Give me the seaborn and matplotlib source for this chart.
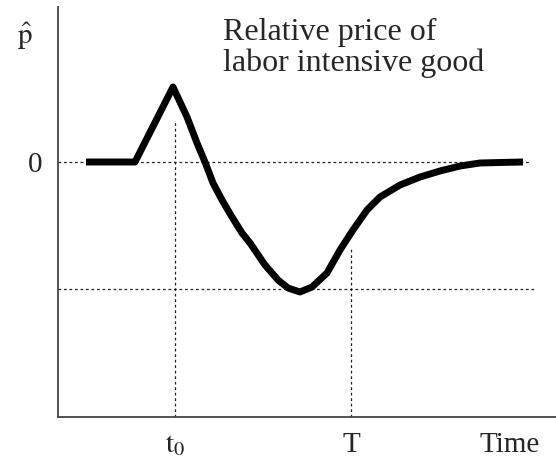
import matplotlib
matplotlib.use("Agg")
import matplotlib.pyplot as plt
import seaborn as sns
import pandas as pd

# Data (arbitrary units)
time = [0.56, 1.54, 2.30, 2.58, 2.78, 2.94, 3.10, 3.28, 3.48, 3.68, 3.84, 4.14,
        4.40, 4.60, 4.84, 5.08, 5.38, 5.64, 5.90, 6.18, 6.44, 6.84, 7.24,
        7.64, 8.04, 8.44, 8.84, 9.30]
price = [0.0, 0.0, 0.75, 0.45, 0.19, 0.00, -0.21, -0.38, -0.55, -0.71, -0.81, -1.03,
         -1.18, -1.26, -1.30, -1.25, -1.11, -0.88, -0.68, -0.48, -0.35, -0.23, -0.15,
         -0.09, -0.04, -0.01, -0.005, 0.0]
t0 = 2.34
T_mark = 5.86
p_min = -1.27
p_at_T = -0.85
p_t0_top = 0.42
x_tick_pos = [t0, T_mark, 9.04]
x_tick_labels = [r"$\mathrm{t}_0$", "T", "Time"]
y_tick_pos = [0]
y_tick_labels = ["0"]
annotation = "Relative price of\nlabor intensive good"

sns.set_theme(style="white")
plt.rcParams["font.family"] = ["Liberation Serif", "DejaVu Serif"]
plt.rcParams["mathtext.fontset"] = "stix"

fig = plt.figure(figsize=(5.56, 4.68), dpi=100)
ax = fig.add_axes([58/556, 51/468, 498/556, 410/468])

df = pd.DataFrame({"time": time, "price": price})
sns.lineplot(data=df, x="time", y="price", ax=ax, color="black", linewidth=5,
             sort=False, solid_joinstyle="round", solid_capstyle="butt", zorder=3)

ax.set_xlim(0, 9.96)
ax.set_ylim(-2.55, 1.55)

dot = dict(color="#222222", linewidth=0.9, linestyle=(0, (2.2, 2.2)), zorder=2)
ax.plot([0, 9.44], [0, 0], **dot)
ax.plot([0, 9.54], [p_min, p_min], **dot)
ax.plot([t0, t0], [-2.55, p_t0_top], **dot)
ax.plot([T_mark, T_mark], [-2.55, p_at_T], **dot)

ax.set_xticks(x_tick_pos)
ax.set_xticklabels(x_tick_labels, fontsize=21)
ax.set_yticks(y_tick_pos)
ax.set_yticklabels(y_tick_labels, fontsize=21)
ax.tick_params(axis="both", length=0, pad=11)
ax.set_xlabel("")
ax.set_ylabel("")

for s in ["top", "right"]:
    ax.spines[s].set_visible(False)
for s in ["left", "bottom"]:
    ax.spines[s].set_color("#444444")
    ax.spines[s].set_linewidth(1.3)

ax.text(-0.066, 0.928, r"$\hat{\mathrm{p}}$", transform=ax.transAxes, fontsize=21,
        ha="center", va="center")
ax.text(0.331, 0.973, annotation, transform=ax.transAxes, fontsize=23,
        ha="left", va="top", linespacing=1.08)

fig.savefig("out.png", dpi=100)
